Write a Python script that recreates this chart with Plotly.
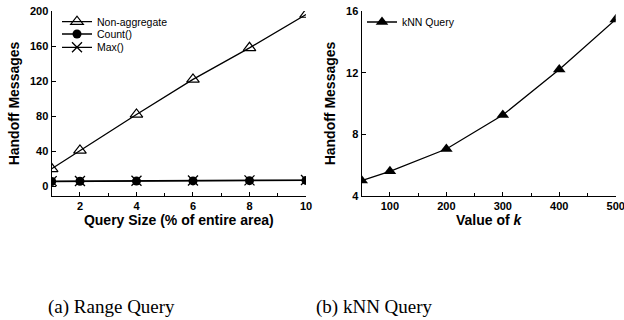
import plotly.graph_objects as go

# Left: Range query
query_size = [1, 2, 4, 6, 8, 10]
non_aggregate = [20, 41, 82, 122, 158, 196]
count_vals = [5.5, 5.8, 6.0, 6.2, 6.5, 6.8]
max_vals = [6.0, 6.2, 6.4, 6.6, 6.8, 7.2]

# Right: kNN query
k_values = [50, 100, 200, 300, 400, 500]
knn_msgs = [5.0, 5.6, 7.05, 9.25, 12.2, 15.45]

left_xticks = [2, 4, 6, 8, 10]
left_yticks = [0, 40, 80, 120, 160, 200]
right_xticks = [100, 200, 300, 400, 500]
right_yticks = [4, 8, 12, 16]

W, H = 624, 320


def fx(px):
    return px / W


def fy(py):
    return 1 - py / H


fig = go.Figure()

fig.add_trace(go.Scatter(x=query_size, y=non_aggregate, name="Non-aggregate", mode="lines+markers",
                         line=dict(color="black", width=1.3),
                         marker=dict(symbol="triangle-up-open", size=11, color="black", line=dict(width=1.2)),
                         xaxis="x", yaxis="y", legend="legend"))
fig.add_trace(go.Scatter(x=query_size, y=count_vals, name="Count()", mode="lines+markers",
                         line=dict(color="black", width=1.3),
                         marker=dict(symbol="circle", size=9, color="black"),
                         xaxis="x", yaxis="y", legend="legend3"))
fig.add_trace(go.Scatter(x=query_size, y=max_vals, name="Max()", mode="lines+markers",
                         line=dict(color="black", width=1.3),
                         marker=dict(symbol="x-thin-open", size=10, color="black", line=dict(width=1.3, color="black")),
                         xaxis="x", yaxis="y", legend="legend4"))
fig.add_trace(go.Scatter(x=k_values, y=knn_msgs, name="kNN Query", mode="lines+markers",
                         line=dict(color="black", width=1.3),
                         marker=dict(symbol="triangle-up", size=11, color="black"),
                         xaxis="x2", yaxis="y2", legend="legend2"))

tickfont = dict(family="Liberation Sans, Arial", size=11, color="black", weight="bold")
titlefont = dict(family="Liberation Sans, Arial", size=14, color="black", weight="bold")
axis_common = dict(showline=True, linecolor="black", linewidth=1.3, ticks="inside", ticklen=4,
                   tickcolor="black", tickwidth=1.2, showgrid=False, zeroline=False,
                   tickfont=tickfont, automargin=False, ticklabeloverflow="allow")

legfont = dict(family="Liberation Sans, Arial", size=10.5, color="black")


def leg(px, py):
    return dict(x=fx(px), y=fy(py), xanchor="left", yanchor="middle", bgcolor="rgba(0,0,0,0)",
                font=legfont, itemwidth=30, borderwidth=0)


fig.update_layout(
    width=W, height=H,
    margin=dict(l=0, r=0, t=0, b=0, autoexpand=False),
    paper_bgcolor="white", plot_bgcolor="white",
    showlegend=True,
    xaxis=dict(domain=[fx(51.7), fx(306)], range=[1, 10], tickvals=left_xticks, anchor="y",
               minor=dict(tickvals=[3, 5, 7, 9], ticks="inside", ticklen=3, tickcolor="black"),
               title=dict(text="Query Size (% of entire area)", font=titlefont, standoff=3),
               **axis_common),
    yaxis=dict(domain=[fy(196), fy(11)], range=[-11, 200], tickvals=left_yticks, anchor="x",
               title=dict(text="Handoff Messages", font=titlefont, standoff=7),
               **axis_common),
    xaxis2=dict(domain=[fx(361.7), fx(615.7)], range=[50, 500], tickvals=right_xticks, anchor="y2",
                minor=dict(tickvals=[150, 250, 350, 450], ticks="inside", ticklen=3, tickcolor="black"),
                title=dict(text="Value of <i>k</i>", font=titlefont, standoff=2),
                **axis_common),
    yaxis2=dict(domain=[fy(196), fy(11)], range=[4, 16], tickvals=right_yticks, anchor="x2",
                title=dict(text="Handoff Messages", font=titlefont, standoff=7),
                **axis_common),
    legend=leg(57, 21.7),
    legend3=leg(57, 34),
    legend4=leg(57, 47.3),
    legend2=leg(362, 22),
    annotations=[
        dict(text="(a) Range Query", x=fx(111), y=fy(307), xref="paper", yref="paper",
             xanchor="center", yanchor="middle",
             showarrow=False, font=dict(family="Liberation Serif, Times New Roman", size=19, color="black")),
        dict(text="(b) kNN Query", x=fx(374), y=fy(307), xref="paper", yref="paper",
             xanchor="center", yanchor="middle",
             showarrow=False, font=dict(family="Liberation Serif, Times New Roman", size=19, color="black")),
    ],
)

fig.write_html("out.html", config={"displayModeBar": False},
               post_script="document.body.style.margin='0px';document.body.style.overflow='hidden';")
